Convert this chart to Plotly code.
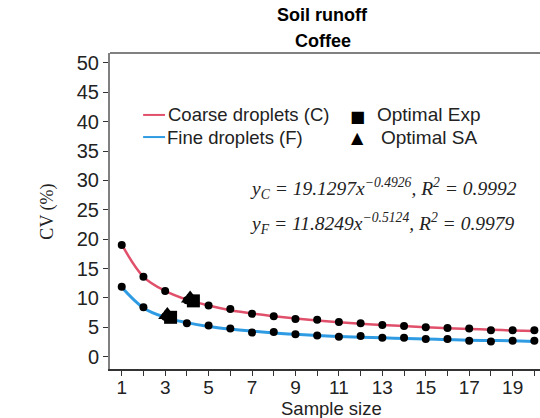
import plotly.graph_objects as go

sample_size = list(range(1, 21))
coarse_cv = [19.0, 13.6, 11.2, 9.6, 8.7, 8.1, 7.3, 6.9, 6.4, 6.3, 5.9, 5.7, 5.4, 5.2, 5.0, 4.9, 4.8, 4.5, 4.5, 4.5]
fine_cv = [11.9, 8.4, 6.8, 5.7, 5.3, 4.8, 4.1, 4.2, 3.8, 3.6, 3.4, 3.5, 3.2, 3.2, 3.0, 3.0, 2.7, 2.6, 2.7, 2.7]
# fitted trend curves
coarse_fit = [19.1, 13.6, 11.2, 9.7, 8.7, 7.9, 7.35, 6.9, 6.5, 6.15, 5.85, 5.6, 5.4, 5.2, 5.0, 4.85, 4.7, 4.6, 4.45, 4.35]
fine_fit = [11.8, 8.3, 6.7, 5.8, 5.15, 4.7, 4.35, 4.05, 3.8, 3.6, 3.45, 3.3, 3.2, 3.1, 3.0, 2.9, 2.8, 2.75, 2.7, 2.6]
opt_exp_x = [4.3, 3.25]
opt_exp_y = [9.5, 6.7]
opt_sa_x = [4.15, 3.1]
opt_sa_y = [9.9, 7.1]
x_tick_vals = [1, 3, 5, 7, 9, 11, 13, 15, 17, 19]
x_minor_vals = [2, 4, 6, 8, 10, 12, 14, 16, 18, 20]
y_tick_vals = [0, 5, 10, 15, 20, 25, 30, 35, 40, 45, 50]

RED = "#E0506A"
BLUE = "#2E9BE3"
SANS = "Liberation Sans, Arial, sans-serif"
SERIF = "Liberation Serif, Times New Roman, serif"

fig = go.Figure()
fig.add_trace(go.Scatter(x=sample_size, y=coarse_fit, mode="lines", line=dict(color=RED, width=2.5, shape="spline"), showlegend=False))
fig.add_trace(go.Scatter(x=sample_size, y=fine_fit, mode="lines", line=dict(color=BLUE, width=3, shape="spline"), showlegend=False))
fig.add_trace(go.Scatter(x=sample_size, y=coarse_cv, mode="markers", marker=dict(color="black", size=8), showlegend=False, cliponaxis=False))
fig.add_trace(go.Scatter(x=sample_size, y=fine_cv, mode="markers", marker=dict(color="black", size=8), showlegend=False, cliponaxis=False))
fig.add_trace(go.Scatter(x=opt_sa_x, y=opt_sa_y, mode="markers", marker=dict(color="black", size=16, symbol="triangle-up"), showlegend=False))
fig.add_trace(go.Scatter(x=opt_exp_x, y=opt_exp_y, mode="markers", marker=dict(color="black", size=13, symbol="square"), showlegend=False))

fig.update_layout(
    width=540, height=418,
    margin=dict(l=110, r=0, t=53, b=49),
    plot_bgcolor="white", paper_bgcolor="white",
    font=dict(family=SANS, size=20, color="#222"),
    xaxis=dict(range=[0.46, 20.26], tickmode="array", tickvals=x_tick_vals,
               ticks="outside", ticklen=5, tickcolor="#333", showgrid=False, zeroline=False,
               showline=True, linecolor="#333", linewidth=1.5, ticklabelstandoff=-5,
               minor=dict(tickmode="array", tickvals=x_minor_vals, ticks="outside", ticklen=5,
                          tickcolor="#333", showgrid=False),
               tickfont=dict(family=SANS, size=19, color="#222")),
    yaxis=dict(range=[-2.1, 51.7], tickvals=y_tick_vals, ticks="outside", ticklen=5, tickcolor="#333",
               showgrid=False, zeroline=False, showline=True, linecolor="#808080", linewidth=2,
               tickfont=dict(family=SANS, size=20, color="#222")),
)

fig.add_shape(type="line", xref="paper", yref="paper", x0=0, x1=1, y0=1, y1=1, line=dict(color="#808080", width=2))

# titles
fig.add_annotation(xref="paper", yref="paper", x=0.495, y=1.12, yanchor="middle", text="<b>Soil runoff</b>", showarrow=False,
                   font=dict(family=SANS, size=18, color="black"))
fig.add_annotation(xref="paper", yref="paper", x=0.495, y=1.038, yanchor="middle", text="<b>Coffee</b>", showarrow=False,
                   font=dict(family=SANS, size=18, color="black"))
fig.add_annotation(xref="paper", yref="paper", x=-0.174, y=0.497, yanchor="middle", text="CV (%)", textangle=-90, showarrow=False,
                   font=dict(family=SERIF, size=18, color="#222"))
fig.add_annotation(xref="paper", yref="paper", x=0.514, y=-0.1235, yanchor="middle", text="Sample size", showarrow=False,
                   font=dict(family=SANS, size=18.5, color="#222"))

# legend
fig.add_shape(type="line", xref="paper", yref="paper", x0=0.077, x1=0.128, y0=0.804, y1=0.804, line=dict(color=RED, width=2))
fig.add_shape(type="line", xref="paper", yref="paper", x0=0.077, x1=0.128, y0=0.734, y1=0.734, line=dict(color=BLUE, width=2))
fig.add_annotation(xref="paper", yref="paper", x=0.130, y=0.804, xanchor="left", yanchor="middle", text="Coarse droplets (C)", showarrow=False,
                   font=dict(family=SANS, size=18.5, color="#222"))
fig.add_annotation(xref="paper", yref="paper", x=0.128, y=0.734, xanchor="left", yanchor="middle", text="Fine droplets (F)", showarrow=False,
                   font=dict(family=SANS, size=18.5, color="#222"))
fig.add_annotation(xref="paper", yref="paper", x=0.576, y=0.800, yanchor="middle", text="■", showarrow=False,
                   font=dict(family="DejaVu Sans", size=16, color="black"))
fig.add_annotation(xref="paper", yref="paper", x=0.576, y=0.734, yanchor="middle", text="▲", showarrow=False,
                   font=dict(family="DejaVu Sans", size=16, color="black"))
fig.add_annotation(xref="paper", yref="paper", x=0.616, y=0.804, xanchor="left", yanchor="middle", text="Optimal Exp", showarrow=False,
                   font=dict(family=SANS, size=19, color="#222"))
fig.add_annotation(xref="paper", yref="paper", x=0.625, y=0.734, xanchor="left", yanchor="middle", text="Optimal SA", showarrow=False,
                   font=dict(family=SANS, size=19, color="#222"))

# equations
fig.add_annotation(xref="paper", yref="paper", x=0.321, y=0.572, xanchor="left", yanchor="middle",
                   text="<i>y<sub>C</sub> = 19.1297x<sup>−0.4926</sup>, R<sup>2</sup> = 0.9992</i>", showarrow=False,
                   font=dict(family=SERIF, size=19.5, color="#222"))
fig.add_annotation(xref="paper", yref="paper", x=0.321, y=0.459, xanchor="left", yanchor="middle",
                   text="<i>y<sub>F</sub> = 11.8249x<sup>−0.5124</sup>, R<sup>2</sup> = 0.9979</i>", showarrow=False,
                   font=dict(family=SERIF, size=19.5, color="#222"))

fig.write_html("out.html")
